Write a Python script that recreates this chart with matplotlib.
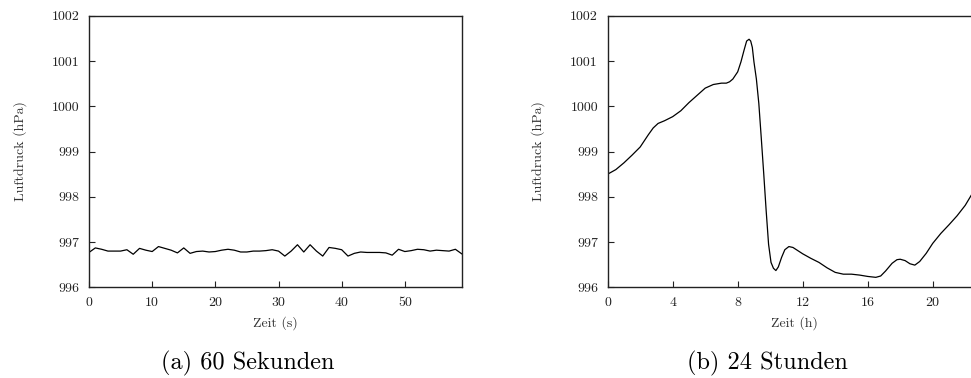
import matplotlib
matplotlib.use("Agg")
import matplotlib.pyplot as plt

plt.rcParams['font.family'] = ['cmr10', 'DejaVu Serif']
plt.rcParams['axes.unicode_minus'] = False
plt.rcParams['mathtext.fontset'] = 'cm'

# (a) 60 seconds
sec_t = list(range(0, 60))
sec_p = [996.77, 996.87, 996.84, 996.80, 996.80, 996.80, 996.83, 996.73, 996.86, 996.82,
         996.79, 996.90, 996.86, 996.82, 996.76, 996.87, 996.75, 996.79, 996.80, 996.78,
         996.79, 996.82, 996.84, 996.82, 996.78, 996.78, 996.80, 996.80, 996.81, 996.83,
         996.80, 996.69, 996.80, 996.94, 996.78, 996.94, 996.80, 996.69, 996.88, 996.86,
         996.83, 996.69, 996.75, 996.78, 996.77, 996.77, 996.77, 996.76, 996.71, 996.84,
         996.79, 996.81, 996.84, 996.83, 996.80, 996.82, 996.81, 996.80, 996.84, 996.74]

# (b) 24 hours
hour_t = [0, 0.5, 1, 1.5, 2, 2.5, 2.8, 3.1, 3.5, 4, 4.5, 5, 5.5, 6, 6.5, 7, 7.3, 7.5, 7.7,
          8, 8.2, 8.4, 8.55, 8.7, 8.8, 8.9, 9, 9.15, 9.3, 9.45, 9.6, 9.75, 9.9, 10.05,
          10.2, 10.35, 10.5, 10.7, 10.9, 11.15, 11.4, 11.7, 12, 12.5, 13, 13.5, 14, 14.5,
          15, 15.5, 16, 16.5, 16.8, 17.1, 17.5, 17.8, 18, 18.3, 18.6, 18.9, 19.2, 19.6,
          20, 20.5, 21, 21.5, 22, 22.4, 23]
hour_p = [998.50, 998.60, 998.75, 998.92, 999.10, 999.37, 999.52, 999.62, 999.68, 999.77,
          999.90, 1000.08, 1000.24, 1000.40, 1000.48, 1000.51, 1000.51, 1000.54, 1000.60,
          1000.76, 1000.98, 1001.25, 1001.44, 1001.48, 1001.44, 1001.30, 1000.98, 1000.60,
          1000.06, 999.30, 998.52, 997.70, 996.95, 996.55, 996.42, 996.37, 996.45, 996.66,
          996.83, 996.90, 996.88, 996.81, 996.74, 996.64, 996.55, 996.43, 996.33, 996.29,
          996.29, 996.27, 996.24, 996.22, 996.25, 996.36, 996.53, 996.61, 996.62, 996.59,
          996.52, 996.49, 996.57, 996.75, 996.97, 997.19, 997.38, 997.58, 997.81, 998.05,
          998.45]

y_ticks = [996, 997, 998, 999, 1000, 1001, 1002]

fig = plt.figure(figsize=(9.71, 3.78), dpi=100)
ax1 = fig.add_axes([89/971, 1-287.3/378, 372.7/971, 271.6/378])
ax2 = fig.add_axes([607.7/971, 1-287.3/378, 373.75/971, 271.6/378])

def style(ax, xlabel, xticks, xlim):
    ax.set_ylim(996, 1002)
    ax.set_xlim(*xlim)
    ax.set_yticks(y_ticks)
    ax.set_xticks(xticks)
    ax.tick_params(direction='in', length=4, width=0.8, labelsize=10,
                   top=False, right=False, pad=7, colors='#222222')
    for s in ax.spines.values():
        s.set_linewidth(1.0)
        s.set_color('#222222')
    ax.set_xlabel(xlabel, fontsize=10, color='#333333')
    ax.set_ylabel('Luftdruck (hPa)', fontsize=10, color='#333333')
    ax.xaxis.set_label_coords(0.5, -0.131)
    ax.xaxis.label.set_va('center')
    ax.yaxis.set_label_coords(-0.185, 0.5)
    ax.yaxis.label.set_va('center')

ax1.plot(sec_t, sec_p, color='black', lw=0.9)
style(ax1, 'Zeit (s)', [0, 10, 20, 30, 40, 50], (0, 59))

ax2.plot(hour_t, hour_p, color='black', lw=0.9)
style(ax2, 'Zeit (h)', [0, 4, 8, 12, 16, 20], (0, 23))

fig.text(248/971, 1-363/378, '(a) 60 Sekunden', ha='center', va='center', fontsize=17.5)
fig.text(767.5/971, 1-363/378, '(b) 24 Stunden', ha='center', va='center', fontsize=17.5)

fig.savefig('out.png', dpi=100)
